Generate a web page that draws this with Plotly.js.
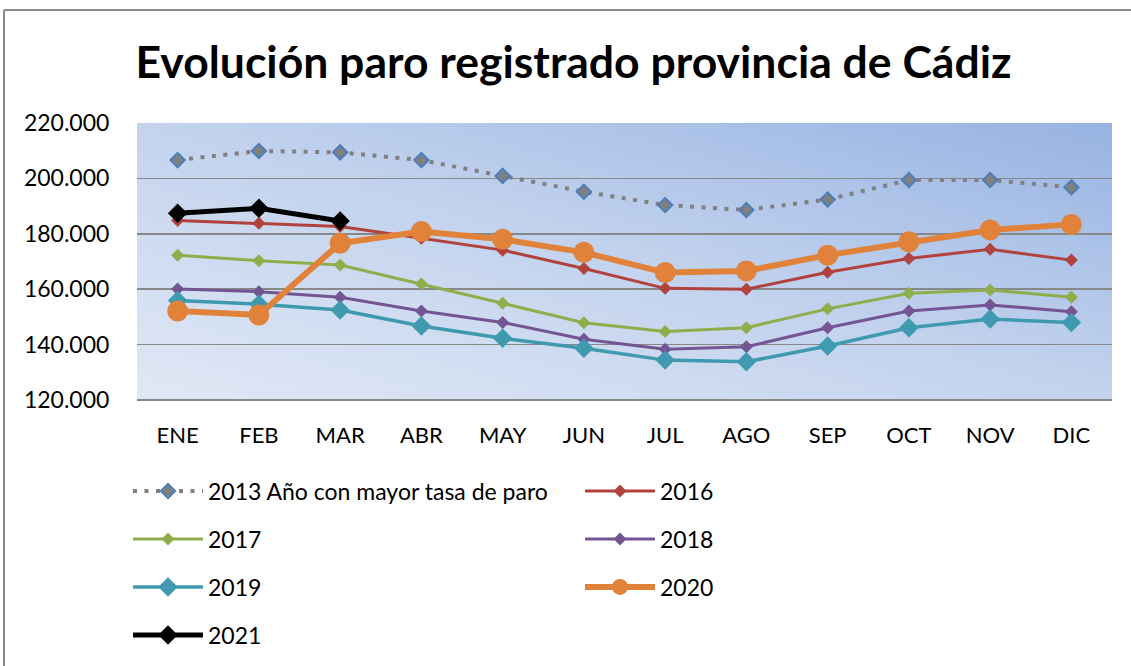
<!DOCTYPE html>
<html><head><meta charset="utf-8">
<script src="https://cdn.plot.ly/plotly-3.0.1.min.js"></script>
<style>html,body{margin:0;padding:0;background:#fff;} #chart{width:1131px;height:666px;}</style>
</head><body><div id="chart"></div>
<script>
const months = ["ENE","FEB","MAR","ABR","MAY","JUN","JUL","AGO","SEP","OCT","NOV","DIC"];
const seriesNames = ["2013 Año con mayor tasa de paro","2016","2017","2018","2019","2020","2021"];
const v2013 = [206600, 209900, 209400, 206600, 200900, 195200, 190400, 188600, 192400, 199400, 199400, 196800];
const v2016 = [184800, 183800, 182600, 178400, 174100, 167500, 160300, 160000, 166100, 171100, 174400, 170500];
const v2017 = [172300, 170300, 168700, 161900, 154900, 147900, 144700, 146100, 152900, 158500, 159700, 157100];
const v2018 = [160100, 159100, 157100, 152100, 148000, 141900, 138300, 139200, 146100, 152100, 154300, 151900];
const v2019 = [155900, 154600, 152500, 146700, 142300, 138700, 134400, 133800, 139500, 146100, 149200, 148000];
const v2020 = [152100, 150700, 176600, 180800, 178000, 173300, 166000, 166600, 172300, 177100, 181400, 183400];
const v2021 = [187400, 189200, 184600];
const yTickVals = [120000, 140000, 160000, 180000, 200000, 220000];
const yTickText = ["120.000", "140.000", "160.000", "180.000", "200.000", "220.000"];
const titleText = "Evolución paro registrado provincia de Cádiz";

// plot-area gradient background
const W = 975, H = 277;
const cv = document.createElement('canvas'); cv.width = W; cv.height = H;
const ctx = cv.getContext('2d');
const g = ctx.createLinearGradient(0, H, 145.6, H - 512.6);
g.addColorStop(0, '#e0e8f5');
g.addColorStop(0.5, '#c3d3ee');
g.addColorStop(1, '#97b3e2');
ctx.fillStyle = g; ctx.fillRect(0, 0, W, H);
const bgURL = cv.toDataURL('image/png');

const FONT = 'Lato, "Open Sans", sans-serif';
const allVals = [v2013, v2016, v2017, v2018, v2019, v2020, v2021];
const styles = [
  {line:{color:'#808080', width:4, dash:'4px,7.5px'}, marker:{symbol:'diamond', size:11, color:'#808080', line:{color:'#4a7ebb', width:2}}},
  {line:{color:'#b0433e', width:3}, marker:{symbol:'diamond', size:10, color:'#b0433e'}},
  {line:{color:'#8fae4b', width:3}, marker:{symbol:'diamond', size:10, color:'#8fae4b'}},
  {line:{color:'#735594', width:3}, marker:{symbol:'diamond', size:10, color:'#735594'}},
  {line:{color:'#3f9ab0', width:3.5}, marker:{symbol:'diamond', size:15, color:'#3f9ab0'}},
  {line:{color:'#e0823a', width:6}, marker:{symbol:'circle', size:21, color:'#e0823a'}},
  {line:{color:'#000000', width:5}, marker:{symbol:'diamond', size:15, color:'#000000'}}
];
const legendIds = ['legend','legend2','legend3','legend4','legend5','legend6','legend7'];
const traces = allVals.map((v, i) => Object.assign({
  type:'scatter', mode:'lines+markers', name: seriesNames[i],
  x: months.slice(0, v.length), y: v, legend: legendIds[i], hoverinfo:'skip'
}, styles[i]));

function px2x(px){ return (px - 137) / 975; }
function py2y(py){ return (400 - py) / 277; }
const rowsY = [491, 491, 539, 539, 587, 587, 635];
const colsX = [128, 580, 128, 580, 128, 580, 128];
const layout = {
  width:1131, height:666,
  margin:{l:137, r:19, t:123, b:266, autoexpand:false},
  paper_bgcolor:'#ffffff', plot_bgcolor:'rgba(0,0,0,0)',
  font:{family:FONT, size:23, color:'#000'},
  title:{text:titleText, font:{family:FONT, size:44.5, weight:'bold', color:'#000'}, x:573.5/1131, xanchor:'center', xref:'container', y:1-62/666, yanchor:'middle', yref:'container'},
  xaxis:{type:'category', categoryarray:months, range:[-0.5, 11.5], showgrid:false, zeroline:false, showline:false,
         ticks:'outside', ticklen:16, tickcolor:'rgba(0,0,0,0)', tickfont:{family:FONT, size:22, color:'#000'}},
  yaxis:{range:[120000, 220000], tickvals:yTickVals, ticktext:yTickText, showgrid:true, gridcolor:'#888888', gridwidth:1.5,
         zeroline:false, showline:false, ticks:'outside', ticklen:22, tickcolor:'rgba(0,0,0,0)', tickfont:{family:FONT, size:23, color:'#000'}},
  images:[{source:bgURL, xref:'paper', yref:'paper', x:0, y:1, sizex:1, sizey:1, sizing:'stretch', layer:'below', xanchor:'left', yanchor:'top'}],
  shapes:[
    {type:'line', xref:'paper', yref:'paper', x0:px2x(4), x1:px2x(1131), y0:py2y(10), y1:py2y(10), line:{color:'#8a8a8a', width:2}},
    {type:'line', xref:'paper', yref:'paper', x0:px2x(4), x1:px2x(4), y0:py2y(10), y1:py2y(666), line:{color:'#8a8a8a', width:2}},
    {type:'line', xref:'paper', yref:'paper', x0:0, x1:1, y0:0, y1:0, line:{color:'#888888', width:2}}
  ],
  showlegend:true
};
legendIds.forEach((id, i) => {
  layout[id] = {x:px2x(colsX[i]), xanchor:'left', y:py2y(rowsY[i]), yanchor:'middle', bgcolor:'rgba(0,0,0,0)', borderwidth:0,
    font:{family:FONT, size:23, color:'#000'}, itemwidth:70, orientation:'v'};
});
Plotly.newPlot('chart', traces, layout, {displayModeBar:false, staticPlot:true});
</script></body></html>
